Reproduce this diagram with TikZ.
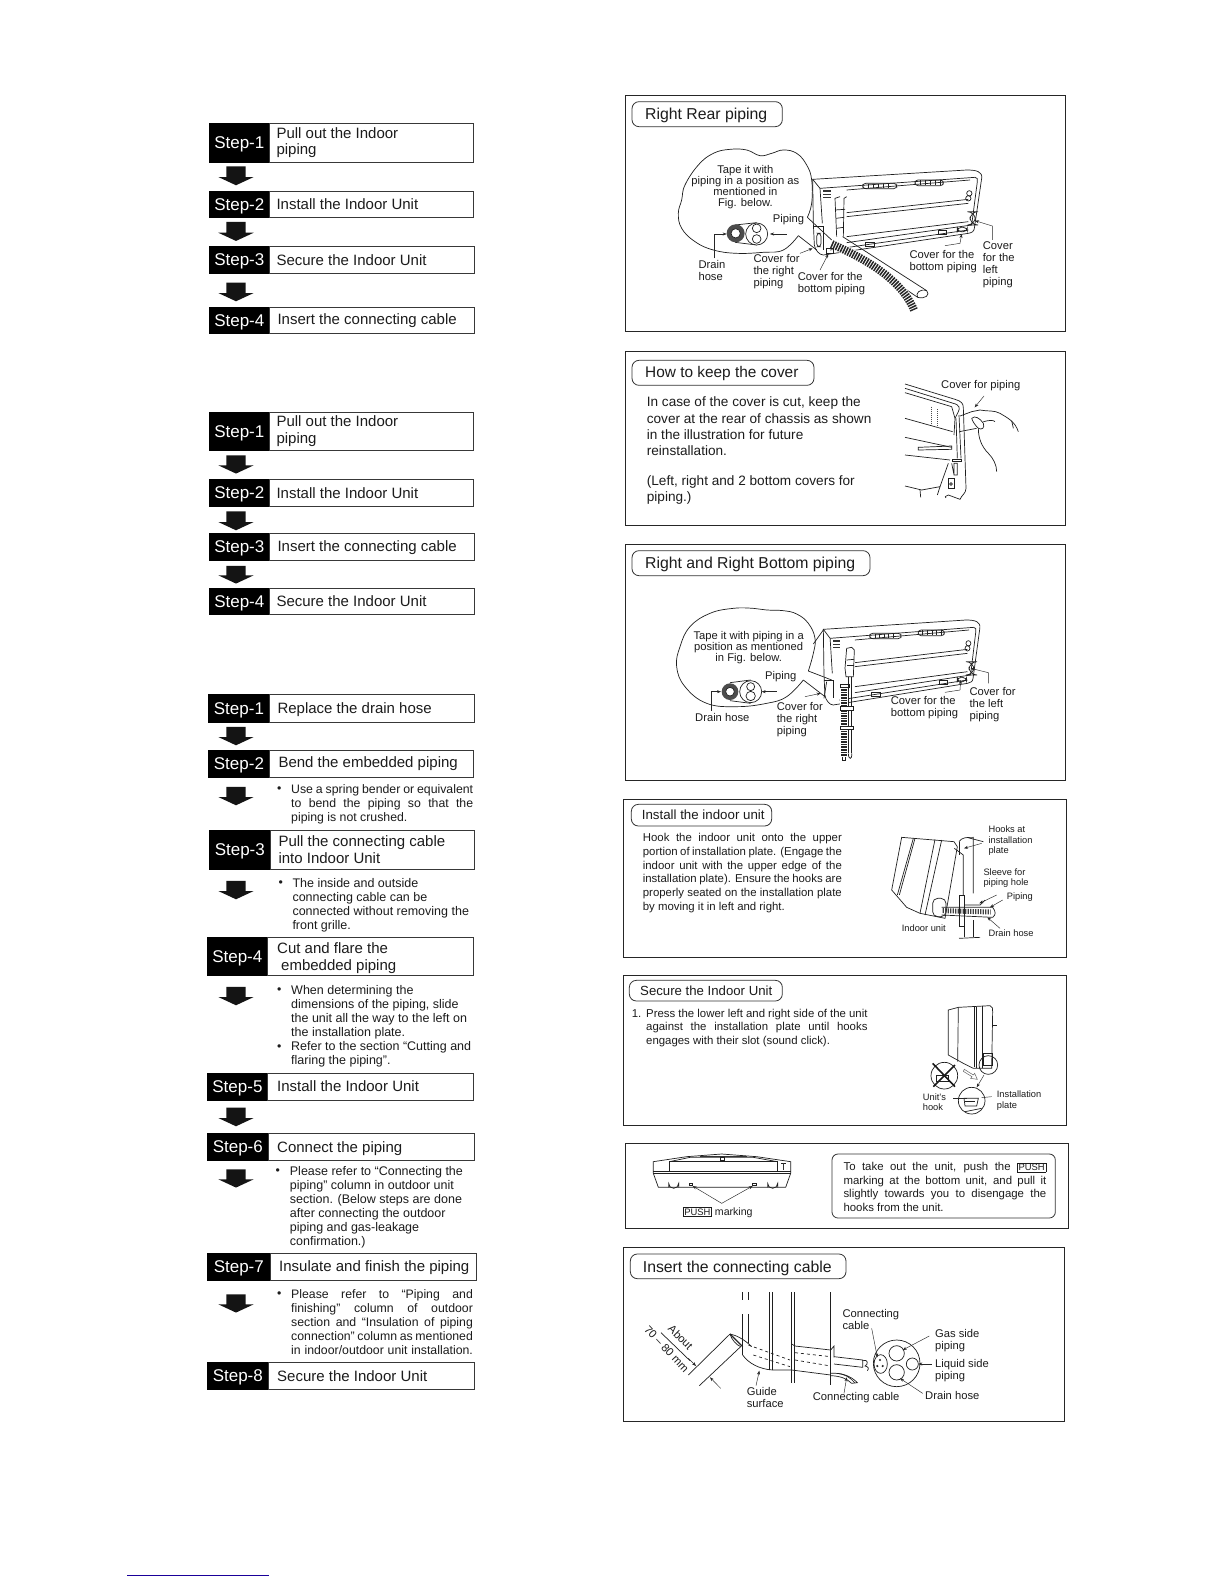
\documentclass[tikz,border=0pt]{standalone}
\usepackage{fontspec}
\setmainfont{Liberation Sans}
\usetikzlibrary{arrows.meta,shapes.arrows,shapes.geometric}
\definecolor{ink}{HTML}{1C1C1C}
\tikzset{
 blackcell/.style={fill=black,draw=black,anchor=north west,inner sep=0pt,line width=.6pt},
 whitecell/.style={draw=black!78,fill=white,anchor=north west,inner sep=0pt,line width=.9pt},
 steplabel/.style={text=white,inner sep=0pt,yshift=-1.7pt,font=\fontsize{17}{18}\selectfont},
 steptext/.style={anchor=west,inner sep=0pt,align=left,text=ink,font=\fontsize{15}{16.7}\selectfont},
 blockarrow/.style={single arrow,fill=black!92,inner sep=0pt,rotate=-90,text height=19pt,text depth=0pt,minimum width=35pt,single arrow head extend=8pt,single arrow tip angle=130,single arrow head indent=0pt},
 bullettext/.style={anchor=north west,inner sep=0pt,align=left,text=ink,font=\fontsize{12.3}{14}\selectfont},
 bullettextb/.style={anchor=north west,inner sep=0pt,align=left,text=ink,font=\fontsize{12.5}{14}\selectfont},
 zone/.style={x=0.33333pt,y=-0.33333pt},
 frame/.style={draw=black!85,line width=.9pt},
 titlebox/.style={draw=black!80,line width=.8pt,rounded corners=7pt},
 ttl/.style={anchor=north west,inner sep=0pt,text=ink,font=\fontsize{15.8}{18}\selectfont},
 body/.style={anchor=north west,inner sep=0pt,align=left,text=ink,font=\fontsize{13.6}{16.3}\selectfont},
 body2/.style={anchor=north west,inner sep=0pt,align=left,text=ink,font=\fontsize{11.4}{13.7}\selectfont},
 lab/.style={anchor=north west,inner sep=0pt,align=left,text=ink,font=\fontsize{11.2}{12}\selectfont},
 labc/.style={anchor=north,inner sep=0pt,align=center,text=ink,font=\fontsize{11.2}{11}\selectfont},
 labs/.style={anchor=north west,inner sep=0pt,align=left,text=ink,font=\fontsize{9.3}{10.4}\selectfont},
 art/.style={line width=.7pt,draw=black!88},
 lead/.style={line width=.45pt,draw=black!85,-{Stealth[length=4pt,width=3pt]}},
 leadp/.style={line width=.45pt,draw=black!85},
 coil/.style={line width=8pt,draw=black!85,dash pattern=on 1.5pt off 1.1pt}
}
\newcommand\stepflow[9]{%
 \node[blackcell,minimum width={(#3-#2)*1pt},minimum height={(#6-#5)*1pt}] (#1k) at (#2,#5) {};
 \node[steplabel] (#1l) at (#1k.center) {#7};
 \node[whitecell,minimum width={(#4-#3)*1pt},minimum height={(#6-#5)*1pt}] (#1w) at (#3,#5) {};
 \node[steptext] (#1t) at (#8,{(#5+#6)/2}) {#9};
}
\newcommand\nudge[2]{\raisebox{-#1pt}[\height][\depth]{#2}}
\newcommand\blockarr[3]{\node[blockarrow,minimum height={(#3-#2)*1pt}] (#1) at (236,{(#2+#3)/2-2}) {};}
\newcommand\jl[2]{\makebox[#1pt][s]{#2}}
\newcommand\pushmark{{\setlength{\fboxsep}{1pt}\setlength{\fboxrule}{.5pt}\fbox{\fontsize{9.4}{9.4}\selectfont PUSH}}}
\newcommand\unitback{%
 \draw[art] (580,400) -- (578,268) -- (1040,240) .. controls (1070,240) and (1088,245) .. (1085,265) -- (1063,415) .. controls (1062,425) and (1055,428) .. (1045,430) -- (610,495) .. controls (598,495) and (585,480) .. (583,465) -- (580,400);
 \draw[art] (578,268) -- (600,295) -- (1065,262) .. controls (1072,262) and (1074,268) .. (1072,275) -- (1055,405) -- (680,458);
 \draw[art] (600,295) -- (607,400);
 \draw[art] (680,300) -- (1050,270);
 \draw[art] (680,368) -- (1045,328);
 \draw[art] (680,380) -- (1045,340);
 \draw[art] (680,440) -- (1045,395);
 \draw[art] (630,480) -- (1045,420);
 \draw[art,rounded corners=3pt] (728,280) rectangle (830,296);
 \draw[art,rounded corners=3pt] (885,270) rectangle (970,287);
 \foreach \i in {745,760,...,815} \draw[art] (\i,281) -- (\i,295);
 \foreach \i in {900,915,...,960} \draw[art] (\i,271) -- (\i,286);
 \draw[art] (1048,310) circle (8);
 \draw[art] (1045,325) circle (8);
 \draw[art,rounded corners=8pt] (1050,365) rectangle (1066,405);
 \draw[art,rounded corners=4pt] (1012,412) rectangle (1042,425);
 \draw[art] (955,422) rectangle (980,432);
 \draw[art] (735,456) rectangle (762,468);
 \foreach \i in {303,313,323} \draw[line width=1.2pt,black!80] (610,\i) -- (632,\i);
}
\begin{document}
\begin{tikzpicture}[x=1pt,y=-1pt]
\useasboundingbox (0,0) rectangle (1224,1584);
\fill[white] (0,0) rectangle (1224,1584);

% ---------- group 1
\stepflow{aa}{209}{269}{472.7}{123.3}{161.7}{Step-1}{276.3}{Pull out the Indoor\\piping}
\stepflow{ab}{209}{269}{472.7}{190.7}{217.3}{Step-2}{276.3}{Install the Indoor Unit}
\stepflow{ac}{209}{269}{473.5}{246}{273.3}{Step-3}{276.3}{Secure the Indoor Unit}
\stepflow{ad}{209}{269}{473.7}{306.7}{333.3}{Step-4}{277.3}{\nudge{1}{Insert the connecting cable}}
\blockarr{aaa}{166}{185}\blockarr{aab}{221.7}{240.7}\blockarr{aac}{282.3}{301}
% ---------- group 2
\stepflow{ba}{209}{269}{472.7}{412.3}{450.3}{Step-1}{276.3}{Pull out the Indoor\\piping}
\stepflow{bb}{209}{269}{472.7}{479.3}{506.3}{Step-2}{276.3}{Install the Indoor Unit}
\stepflow{bc}{209}{269}{473.7}{533.3}{560.3}{Step-3}{277.3}{\nudge{1}{Insert the connecting cable}}
\stepflow{bd}{209}{269}{473.7}{587.7}{614.3}{Step-4}{276.3}{Secure the Indoor Unit}
\blockarr{baa}{455}{473.3}\blockarr{bab}{511}{530}\blockarr{bac}{565.7}{583.3}
% ---------- group 3
\stepflow{ca}{208.3}{269}{473.7}{694}{721.7}{Step-1}{277.3}{\nudge{2}{Replace the drain hose}}
\stepflow{cb}{208.3}{269}{473.3}{750}{777}{Step-2}{278.3}{Bend the embedded piping}
\stepflow{cc}{209}{270}{473.7}{830.3}{868.7}{Step-3}{278.3}{Pull the connecting cable\\into Indoor Unit}
\stepflow{cd}{207}{267}{473.3}{937}{975.3}{Step-4}{277}{\nudge{2}{Cut and flare the}\\\hspace*{4pt}\nudge{2}{embedded piping}}
\stepflow{ce}{207}{267.3}{473.3}{1072.7}{1099.7}{Step-5}{277}{Install the Indoor Unit}
\stepflow{cf}{207}{268}{473.7}{1133}{1159.7}{Step-6}{277}{\nudge{2}{Connect the piping}}
\stepflow{cg}{207}{270}{475.7}{1253.3}{1280.3}{Step-7}{279}{\nudge{1}{Insulate and finish the piping}}
\stepflow{ch}{207}{268}{473.7}{1362.3}{1389.3}{Step-8}{277}{Secure the Indoor Unit}
\blockarr{caa}{726.7}{745}\blockarr{cab}{786.7}{805}\blockarr{cac}{880.7}{899}\blockarr{cad}{986.7}{1005}
\blockarr{cae}{1107.3}{1126}\blockarr{caf}{1169}{1187.3}\blockarr{cag}{1294}{1312.3}

\node[bullettext] (bu1) at (277,787) {•};
\node[bullettext] (tx1) at (291,784) {\jl{182}{Use a spring bender or equivalent}\\\jl{182}{to bend the piping so that the}\\piping is not crushed.};
\node[bullettext] (bu2) at (278.5,881) {•};
\node[bullettextb] (tx2) at (292.3,878.5) {The inside and outside\\connecting cable can be\\connected without removing the\\front grille.};
\node[bullettext] (bu3) at (277,988) {•};
\node[bullettextb] (tx3) at (291,985.5) {When determining the\\dimensions of the piping, slide\\the unit all the way to the left on\\the installation plate.};
\node[bullettext] (bu4) at (277,1044.5) {•};
\node[bullettextb] (tx4) at (291,1041.5) {Refer to the section “Cutting and\\flaring the piping”.};
\node[bullettext] (bu5) at (275.5,1169) {•};
\node[bullettextb] (tx5) at (289.7,1166.3) {Please refer to “Connecting the\\piping” column in outdoor unit\\section. (Below steps are done\\after connecting the outdoor\\piping and gas-leakage\\confirmation.)};
\node[bullettext] (bu6) at (277,1292) {•};
\node[bullettext] (tx6) at (291,1289.3) {\jl{181.7}{Please refer to “Piping and}\\\jl{181.7}{finishing” column of outdoor}\\\jl{181.7}{section and “Insulation of piping}\\\jl{181.7}{connection” column as mentioned}\\\jl{181.7}{in indoor/outdoor unit installation.}};

% ---------- panel 1
\begin{scope}[zone,shift={(620pt,-90pt)}]
\draw[frame] (17,15) rectangle (1336,724);
\draw[titlebox] (36,35) rectangle (487,110);
\node[ttl] (p1t) at (75,54) {Right Rear piping};
\unitback
\draw[art] (660,320) -- (645,325) -- (650,440);
\draw[art] (680,320) -- (672,325) -- (670,440);
\draw[art] (645,360) -- (675,358); \draw[art] (648,385) -- (672,382); \draw[art] (650,415) -- (670,412);
\draw[art] (668,440) -- (920,602);
\draw[art] (650,458) -- (893,622);
\draw[art] (920,602) .. controls (932,615) and (915,628) .. (893,622) .. controls (885,610) and (900,595) .. (920,602);
\draw[line width=9pt,white] (635,462) .. controls (720,500) and (840,560) .. (882,660);
\draw[coil] (635,462) .. controls (720,500) and (840,560) .. (882,660);
\draw[art] (583,410) -- (610,410) -- (610,480);
\draw[art,rounded corners=3pt] (590,430) rectangle (603,470);
\draw[art] (620,475) rectangle (640,490);
\draw[art] plot[smooth,tension=.7] coordinates {(562,382) (575,340) (575,270) (560,225) (530,190) (490,180) (455,190) (420,197) (380,180) (330,178) (280,190) (235,225) (195,285) (185,330) (175,370) (185,415) (225,455) (280,480) (350,490) (430,487) (490,480) (535,437)};
\draw[art] (562,382) -- (635,450);
\draw[art] (535,437) -- (590,480);
\draw[art] (345,405) -- (410,398); \draw[art] (345,457) -- (410,465);
\fill[black!70] (347,430) circle (27);
\draw[art,fill=white] (347,430) circle (14);
\draw[art,fill=white] (410,432) circle (33);
\draw[art] (410,415) circle (13); \draw[art] (410,447) circle (13);
\draw[lead] (500,432) -- (450,432);
\draw[lead] (283,505) -- (283,432) -- (320,432);
\draw[lead] (540,490) -- (578,475);
\draw[lead] (600,540) -- (625,492);
\draw[lead] (975,467) -- (1020,460) -- (1025,432);
\draw[lead] (1117,450) -- (1117,408) -- (1065,392);
\node[labc] (p1a) at (376,226) {Tape it with\\piping in a position as\\mentioned in\\Fig. below.};
\node[lab] (p1b) at (458,374) {Piping};
\node[lab] (p1c) at (235,512) {Drain\\hose};
\node[lab] (p1d) at (400,493) {Cover for\\the right\\piping};
\node[lab] (p1e) at (533,546) {Cover for the\\bottom piping};
\node[lab] (p1f) at (868,481) {Cover for the\\bottom piping};
\node[lab] (p1g) at (1088,455) {Cover\\for the\\left\\piping};
\end{scope}

% ---------- panel 2
\begin{scope}[zone,shift={(620pt,-345pt)}]
\draw[frame] (17,18) rectangle (1336,541);
\draw[titlebox] (36,46) rectangle (582,121);
\node[ttl,font=\fontsize{15.4}{18}\selectfont] (p2t) at (75,63) {How to keep the cover};
\node[body] (p2a) at (80,155) {In case of the cover is cut, keep the\\cover at the rear of chassis as shown\\in the illustration for future\\reinstallation.};
\node[body] (p2b) at (80,390) {(Left, right and 2 bottom covers for\\piping.)};
\end{scope}
\begin{scope}[zone,shift={(880pt,-360pt)}]
\draw[art] (75,72) -- (225,118) .. controls (245,124) and (250,130) .. (250,145) -- (258,385) .. controls (258,400) and (245,405) .. (240,418) -- (205,405) -- (195,410);
\draw[art] (75,85) -- (220,130) .. controls (240,135) and (240,145) .. (235,155) -- (225,175) -- (222,225);
\draw[art] (75,98) -- (215,140) -- (225,175);
\draw[art] (75,175) -- (218,215);
\draw[art] (75,232) -- (215,262);
\draw[art] (115,262) -- (215,258) -- (215,268) -- (115,270) -- cycle;
\draw[art] (75,285) -- (210,300);
\draw[art] (237,165) -- (243,295); \draw[art] (228,175) -- (232,295);
\draw[art] (218,298) rectangle (245,305);
\draw[art] (205,310) -- (180,380) -- (125,390) -- (75,378);
\draw[art] (120,390) -- (122,412);
\draw[art] (215,310) -- (222,345) rectangle (232,310);
\draw[art] (205,355) rectangle (222,385);
\draw[art] (213,372) circle (4);
\draw[art] (180,380) -- (172,405);
\fill[black!80] (197,412) circle (2);
\draw[densely dotted,line width=1pt,black!70] (153,140) -- (153,198);
\draw[densely dotted,line width=1pt,black!70] (173,148) -- (173,203);
\draw[art] (240,168) -- (275,155) -- (300,150);
\draw[art] (238,215) -- (290,205);
\draw[art] (275,175) .. controls (285,165) and (300,175) .. (310,190) .. controls (315,205) and (305,210) .. (295,205) .. controls (285,195) and (278,185) .. (275,175);
\draw[art] (300,150) .. controls (330,155) and (340,150) .. (360,160) .. controls (385,175) and (405,185) .. (415,215);
\draw[art] (295,205) .. controls (295,235) and (305,260) .. (325,280) .. controls (340,295) and (350,315) .. (350,335);
\draw[art] (310,185) .. controls (330,180) and (340,180) .. (345,185);
\draw[art] (395,182) -- (400,205);
\draw[lead] (312,108) -- (284,142);
\node[lab] (p2c) at (183,61) {Cover for piping};
\end{scope}

% ---------- panel 3
\begin{scope}[zone,shift={(620pt,-540pt)}]
\draw[frame] (17,13) rectangle (1336,720);
\draw[titlebox] (36,32) rectangle (750,107);
\node[ttl] (p3t) at (75,50) {Right and Right Bottom piping};
\begin{scope}[xshift=610*0.33333pt,xscale=.926,xshift=-578*.33333pt]
\unitback
\end{scope}
\draw[art,fill=white] (680,325) -- (675,385) -- (678,410) -- (700,410) -- (703,330) -- (695,322) -- cycle;
\draw[art] (680,360) -- (702,358);
\draw[art] (680,375) -- (702,375);
\draw[line width=7.5pt,white] (672,440) -- (672,650);
\draw[line width=6.5pt,draw=black!85,dash pattern=on 1.5pt off 1.1pt] (672,440) -- (672,650);
\draw[art] (685,410) -- (685,640);
\draw[art] (695,410) -- (695,640);
\draw[art] (685,640) .. controls (685,660) and (697,660) .. (695,640);
\draw[art] (668,650) -- (668,662) -- (677,662) -- (677,650);
\draw[art,fill=white] (660,500) rectangle (700,510);
\draw[art,fill=white] (660,558) rectangle (700,568);
\draw[art] (660,432) rectangle (688,442);
\draw[art] (612,420) -- (640,420) -- (640,475);
\draw[art] (620,425) -- (612,475);
\draw[art] plot[smooth,tension=.7] coordinates {(565,393) (580,340) (585,295) (565,250) (530,222) (490,212) (440,210) (400,205) (340,205) (270,220) (210,260) (180,320) (170,380) (195,440) (260,490) (350,500) (440,490) (500,470) (550,420)};
\draw[art] (565,393) -- (635,420);
\draw[art] (550,420) -- (615,470);
\draw[art] (610,270) -- (580,312);
\draw[art] (330,428) -- (392,420); \draw[art] (330,482) -- (392,490);
\fill[black!70] (330,455) circle (25);
\draw[art,fill=white] (330,455) circle (13);
\draw[art,fill=white] (392,455) circle (33);
\draw[art] (392,440) circle (12); \draw[art] (392,468) circle (14);
\draw[lead] (470,455) -- (425,455);
\draw[lead] (275,512) -- (275,455) -- (303,455);
\draw[lead] (555,470) -- (602,460);
\draw[lead] (975,457) -- (1020,450) -- (1022,420);
\draw[lead] (1105,430) -- (1105,398) -- (1052,385);
\node[labc] (p3a) at (386,273) {Tape it with piping in a\\position as mentioned\\in Fig. below.};
\node[lab] (p3b) at (435,395) {Piping};
\node[lab] (p3c) at (225,520) {Drain hose};
\node[lab] (p3d) at (470,488) {Cover for\\the right\\piping};
\node[lab] (p3e) at (812,468) {Cover for the\\bottom piping};
\node[lab] (p3f) at (1048,443) {Cover for\\the left\\piping};
\end{scope}

% ---------- panels 4 and 5
\begin{scope}[zone,shift={(620pt,-800pt)}]
\draw[frame] (10,-3) rectangle (1340,472);
\draw[titlebox] (34,13) rectangle (455,78);
\node[ttl,font=\fontsize{13.3}{15}\selectfont] (p4t) at (65,30) {Install the indoor unit};
\node[body2] (p4a) at (68,100) {\jl{199}{Hook the indoor unit onto the upper}\\\jl{199}{portion of installation plate. (Engage the}\\\jl{199}{indoor unit with the upper edge of the}\\\jl{199}{installation plate). Ensure the hooks are}\\\jl{199}{properly seated on the installation plate}\\by moving it in left and right.};
\draw[art] (845,112) -- (1002,125) -- (1012,140) -- (975,355) -- (900,340) -- (860,322) -- (815,270) -- cycle;
\draw[art] (885,115) -- (838,285); \draw[art] (880,115) -- (832,285);
\draw[art] (945,118) -- (900,340); \draw[art] (965,120) -- (915,345);
\draw[art] (1003,145) -- (1030,165) -- (1030,285);
\draw[art] (1017,125) -- (1017,165);
\draw[art] (1017,125) .. controls (1025,112) and (1040,112) .. (1060,112) -- (1060,280);
\draw[art] (1040,112) -- (1090,125);
\draw[art] (1018,285) -- (1032,285) -- (1032,380) -- (1018,380) -- cycle;
\draw[art] (1060,360) -- (1060,412);
\draw[art] (1032,360) -- (1032,412);
\draw[art] (1017,415) -- (1080,412);
\draw[art,rounded corners=5pt] (938,295) rectangle (978,350);
\draw[art] (965,322) -- (1118,322) .. controls (1128,335) and (1128,345) .. (1118,352) -- (965,345);
\draw[line width=5pt,draw=black!75,dash pattern=on 1.2pt off 1.3pt] (968,332) -- (1112,336);
\draw[art] (1032,315) -- (1080,315) -- (1095,300);
\draw[lead] (1085,130) -- (1032,145);
\draw[lead] (1130,285) -- (1078,310);
\draw[lead] (1148,300) -- (1110,322);
\draw[lead] (1140,385) -- (1102,352);
\node[labs] (p4b) at (1105,77) {Hooks at\\installation\\plate};
\node[labs] (p4c) at (1090,205) {Sleeve for\\piping hole};
\node[labs] (p4d) at (1160,278) {Piping};
\node[labs] (p4e) at (845,373) {Indoor unit};
\node[labs] (p4f) at (1105,388) {Drain hose};

\draw[frame] (10,526) rectangle (1340,976);
\draw[titlebox] (28,541) rectangle (487,603);
\node[ttl,font=\fontsize{13.2}{15}\selectfont] (p5t) at (60,556) {Secure the Indoor Unit};
\node[body2] (p5n) at (35,628) {1.};
\node[body2] (p5a) at (78,626) {\jl{221.3}{Press the lower left and right side of the unit}\\\jl{221.3}{against the installation plate until hooks}\\engages with their slot (sound click).};
\draw[art] (985,630) -- (1015,622) -- (1110,617) .. controls (1118,620) and (1118,625) .. (1118,635) -- (1115,805) -- (1060,805) -- (1030,790) -- (985,765) -- cycle;
\draw[art] (1015,622) -- (1013,785);
\draw[art] (1063,620) -- (1063,800); \draw[art] (1070,620) -- (1070,805); \draw[art] (1086,618) -- (1086,805);
\draw[art] (1118,675) -- (1130,675);
\draw[art] (1090,760) -- (1118,760) -- (1118,795) -- (1090,795) -- cycle;
\draw[art] (1105,795) circle (28);
\draw[black!60,line width=.5pt] (1033,808) -- (1060,825) -- (1064,820) -- (1072,838) -- (1052,835) -- (1056,830) -- (1030,814) -- cycle;
\draw[art] (973,827) circle (40);
\draw[line width=1.6pt,black!90] (938,790) -- (1005,860); \draw[line width=1.6pt,black!90] (1005,795) -- (940,860);
\draw[art] (950,825) rectangle (985,845);
\draw[art] (1055,902) circle (40);
\draw[art] (1032,895) -- (1075,895) -- (1070,918) -- (1035,918) -- cycle;
\draw[art] (1035,905) -- (1065,905);
\draw[art] (1035,935) -- (1085,925);
\draw[lead] (1092,825) -- (1070,862);
\draw[leadp] (1000,895) -- (1040,895);
\draw[leadp] (1115,890) -- (1085,893);
\node[labs] (p5b) at (908,880) {Unit’s\\hook};
\node[labs] (p5c) at (1130,872) {Installation\\plate};
\end{scope}

% ---------- panel 6
\begin{scope}[zone,shift={(620pt,-1130pt)}]
\draw[frame] (17,40) rectangle (1345,295);
\draw[titlebox,rounded corners=6pt] (636,72) rectangle (1306,264);
\draw[art] (100,95) -- (200,80) -- (305,72) -- (410,80) -- (512,95) -- (512,130) -- (497,172) -- (115,172) -- (100,130) -- cycle;
\draw[art] (148,95) rectangle (472,125);
\draw[art] (100,125) -- (512,125);
\draw[art] (100,130) -- (512,130);
\draw[art] (148,95) -- (210,82) -- (400,82) -- (472,95);
\draw[line width=1pt,black!80] (240,78) -- (380,78);
\draw[art] (300,82) rectangle (312,90);
\draw[art] (483,100) -- (498,100); \draw[line width=1.2pt,black!80] (491,100) -- (491,120);
\draw[art] (146,172) -- (146,160) arc (180:360:15 and -15) -- (176,172);
\draw[art] (443,172) -- (443,160) arc (180:360:15 and -15) -- (473,172);
\draw[art] (208,160) rectangle (218,167);
\draw[art] (398,160) rectangle (410,167);
\draw[lead] (305,220) -- (218,168);
\draw[lead] (305,220) -- (398,168);
\node[lab,anchor=west,font=\fontsize{10.6}{12}\selectfont] (p6a) at (188,247) {\pushmark\ marking};
\node[body2,font=\fontsize{11.4}{13.5}\selectfont] (p6b) at (670,97) {\jl{202.7}{To take out the unit, push the \pushmark}\\\jl{202.7}{marking at the bottom unit, and pull it}\\\jl{202.7}{slightly towards you to disengage the}\\hooks from the unit.};
\end{scope}

% ---------- panel 7
\begin{scope}[zone,shift={(620pt,-1240pt)}]
\draw[frame] (11,22) rectangle (1332,544);
\draw[titlebox] (31,42) rectangle (678,116);
\node[ttl] (p7t) at (68,62) {Insert the connecting cable};
\draw[art] (368,157) -- (368,180); \draw[art] (385,157) -- (385,180);
\draw[art] (368,222) -- (368,345); \draw[art] (385,222) -- (385,310);
\draw[art] (448,157) -- (448,390); \draw[art] (458,157) -- (458,390);
\draw[art] (515,157) -- (515,430); \draw[art] (524,157) -- (524,430);
\draw[art] (632,157) -- (632,435);
\draw[line width=1.2pt,black!85] (330,282) -- (368,320);
\draw[art] (330,282) .. controls (345,285) and (370,295) .. (395,320);
\draw[art] (330,282) .. controls (335,300) and (350,315) .. (362,320);
\draw[art] (368,345) .. controls (385,370) and (420,388) .. (458,390) -- (515,390) -- (632,405);
\draw[art] (632,400) .. controls (660,398) and (690,405) .. (712,428) -- (695,430) .. controls (680,415) and (660,408) .. (632,407);
\draw[art] (650,400) .. controls (675,402) and (690,412) .. (704,428);
\draw[dashed,art] (385,315) -- (510,360);
\draw[dashed,art] (400,345) -- (510,380);
\draw[dashed,art] (525,338) -- (632,350);
\draw[dashed,art] (525,360) -- (632,378);
\draw[art] (515,312) -- (525,318) -- (632,330) -- (642,318) -- (642,352);
\draw[art] (632,330) -- (632,400);
\draw[art] (642,350) -- (728,360) -- (728,382) -- (642,372);
\draw[art] (728,362) .. controls (745,355) and (745,375) .. (735,378) .. controls (745,380) and (748,385) .. (742,392);
\draw[art] (330,282) -- (205,405);
\draw[art] (362,320) -- (238,437);
\draw[art] (123,278) -- (210,362);
\draw[lead] (205,355) -- (228,378);
\draw[lead] (302,445) -- (270,412);
\draw[art] (830,370) circle (70);
\draw[art] (830,340) circle (23);
\draw[art] (830,397) circle (23);
\draw[art] (877,372) circle (18);
\draw[art] (782,372) ellipse (20 and 28);
\fill[black!85] (780,360) circle (3.5) (772,378) circle (3.5) (788,378) circle (3.5);
\draw[lead] (928,288) -- (848,330);
\draw[lead] (935,372) -- (895,372);
\draw[lead] (908,460) -- (840,415);
\draw[lead] (755,265) -- (772,352);
\draw[lead] (408,437) -- (418,392);
\draw[lead] (672,460) -- (680,412);
\node[lab,anchor=center,rotate=-45] (p7a) at (182,292) {About};
\node[lab,anchor=center,rotate=-47] (p7b) at (140,327) {70 – 80 mm};
\node[lab] (p7c) at (380,441) {Guide\\surface};
\node[lab] (p7d) at (578,458) {Connecting cable};
\node[lab] (p7e) at (667,207) {Connecting\\cable};
\node[lab] (p7f) at (945,267) {Gas side\\piping};
\node[lab] (p7g) at (945,357) {Liquid side\\piping};
\node[lab] (p7h) at (915,455) {Drain hose};
\end{scope}

% ---------- stray rule at the foot of the page
\coordinate (ruleL) at (127,1575);
\coordinate (ruleR) at (269,1575);
\draw[color={rgb,255:red,26;green,0;blue,153},line width=1pt] (ruleL) -- (ruleR);
\end{tikzpicture}
\end{document}
